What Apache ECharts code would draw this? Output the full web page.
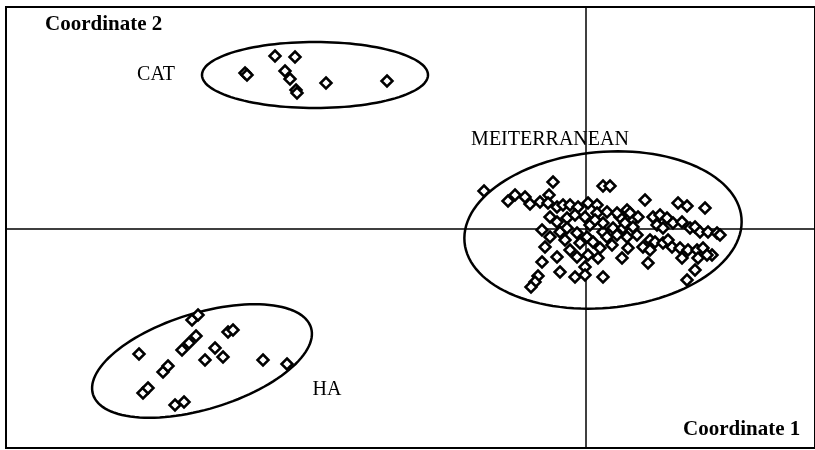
<!DOCTYPE html>
<html lang="en">
<head>
<meta charset="utf-8">
<title>Coordinates</title>
<script src="https://cdn.jsdelivr.net/npm/echarts@6/dist/echarts.min.js"></script>
<style>
  html, body { margin: 0; padding: 0; background: #fff; }
  #main { width: 815px; height: 450px; }
</style>
</head>
<body>
<div id="main"></div>
<script>
// group points (Coordinate 1, Coordinate 2)
const catPoints = [
  [-3.41, 1.56], [-3.39, 1.54], [-3.11, 1.73], [-2.91, 1.72], [-3.01, 1.58],
  [-2.96, 1.50], [-2.90, 1.39], [-2.89, 1.36], [-2.60, 1.46], [-1.99, 1.48]
];
const haPoints = [
  [-4.47, -1.25], [-3.94, -0.91], [-3.88, -0.86], [-3.58, -1.03], [-3.53, -1.01],
  [-4.04, -1.21], [-3.97, -1.14], [-3.90, -1.07], [-3.71, -1.19], [-3.63, -1.28],
  [-3.81, -1.31], [-4.23, -1.43], [-4.18, -1.37], [-4.43, -1.64], [-4.38, -1.59],
  [-4.11, -1.76], [-4.02, -1.73], [-3.23, -1.31], [-2.99, -1.35]
];
const medPoints = [
  [-1.02, 0.38], [-0.33, 0.47], [0.17, 0.43], [0.24, 0.43], [-0.78, 0.28],
  [-0.71, 0.34], [-0.61, 0.32], [-0.56, 0.25], [-0.46, 0.27], [-0.37, 0.34],
  [-0.38, 0.26], [-0.29, 0.22], [-0.23, 0.24], [-0.16, 0.24], [-0.08, 0.22],
  [0.02, 0.26], [0.11, 0.24], [-0.36, 0.12], [-0.29, 0.07], [-0.19, 0.11],
  [-0.11, 0.14], [-0.01, 0.12], [0.11, 0.16], [0.21, 0.17], [-0.44, -0.01],
  [-0.36, -0.08], [-0.26, -0.03], [-0.19, 0.01], [-0.09, -0.04], [0.01, -0.08],
  [0.07, -0.13], [0.17, -0.03], [0.27, 0.01], [-0.41, -0.18], [-0.16, -0.21],
  [-0.09, -0.28], [-0.29, -0.28], [0.02, -0.26], [0.12, -0.29], [0.36, -0.29],
  [-0.44, -0.33], [-0.26, -0.43], [-0.01, -0.38], [0.62, -0.34], [-0.48, -0.47],
  [-0.51, -0.53], [-0.55, -0.58], [-0.11, -0.48], [-0.01, -0.46], [0.17, -0.48],
  [0.59, 0.29], [0.67, 0.12], [0.64, -0.11], [0.41, -0.08], [0.47, 0.09],
  [0.34, 0.12], [0.41, 0.19], [0.92, 0.26], [1.01, 0.23], [1.19, 0.21],
  [0.31, 0.16], [0.44, 0.16], [0.52, 0.12], [0.74, 0.14], [0.81, 0.11],
  [0.71, 0.04], [0.77, 0.01], [0.87, 0.06], [0.96, 0.07], [1.04, 0.01],
  [1.09, 0.02], [1.14, -0.03], [1.22, -0.03], [1.31, -0.04], [1.34, -0.06],
  [0.17, 0.06], [0.37, 0.01], [0.47, 0.02], [0.21, -0.08], [0.31, -0.06],
  [0.51, -0.06], [0.69, -0.13], [0.77, -0.14], [0.86, -0.18], [0.94, -0.19],
  [1.02, -0.21], [1.11, -0.21], [0.82, -0.11], [1.17, -0.19], [1.26, -0.26],
  [1.21, -0.26], [0.57, -0.18], [0.64, -0.21], [0.96, -0.29], [1.12, -0.29],
  [1.09, -0.41], [1.01, -0.51], [0.04, 0.04], [0.09, 0.09], [-0.06, -0.14],
  [0.26, -0.16], [0.14, -0.19], [0.42, -0.19], [-0.21, -0.11], [0.39, 0.06]
];

// enclosing ellipses: centre x, centre y, half axes, tilt (degrees)
const ellipseCx = [-2.71, 0.17, -3.84];
const ellipseCy = [1.54, -0.01, -1.32];
const ellipseRx = [1.13, 1.39, 1.14];
const ellipseRy = [0.33, 0.78, 0.48];
const ellipseTilt = [0, 5, 17];

// group names and where they sit
const groupNames = ['CAT', 'MEITERRANEAN', 'HA'];
const groupLabelX = [-4.30, -0.36, -2.59];
const groupLabelY = [1.54, 0.89, -1.61];

const serif = '"Liberation Serif", "DejaVu Serif", serif';

const chart = echarts.init(document.getElementById('main'));

const pointStyle = {
  type: 'scatter',
  symbol: 'diamond',
  symbolSize: 11,
  itemStyle: { color: '#fff', borderColor: '#000', borderWidth: 2.5, opacity: 1 },
  silent: true,
  z: 3
};

const option = {
  animation: false,
  backgroundColor: '#fff',
  grid: {
    left: 6, right: -4, top: 7, bottom: 2,
    show: true, borderColor: '#000', borderWidth: 2
  },
  xAxis: {
    type: 'value', min: -5.8, max: 2.29,
    axisLine: { show: true, onZero: true, lineStyle: { color: '#000', width: 1.5 } },
    axisTick: { show: false }, axisLabel: { show: false }, splitLine: { show: false }
  },
  yAxis: {
    type: 'value', min: -2.19, max: 2.22,
    axisLine: { show: true, onZero: true, lineStyle: { color: '#000', width: 1.5 } },
    axisTick: { show: false }, axisLabel: { show: false }, splitLine: { show: false }
  },
  graphic: [
    { type: 'text', left: 45, top: 14,
      style: { text: 'Coordinate 2', font: 'bold 21px ' + serif, fill: '#000' } },
    { type: 'text', left: 683, top: 419,
      style: { text: 'Coordinate 1', font: 'bold 21px ' + serif, fill: '#000', letterSpacing: 0.8 } }
  ],
  series: [
    {
      type: 'custom',
      silent: true,
      z: 2,
      data: ellipseCx.map((cx, i) => [cx, ellipseCy[i], ellipseRx[i], ellipseRy[i], ellipseTilt[i]]),
      renderItem: function (params, api) {
        const cx = api.value(0), cy = api.value(1);
        const a = api.value(2), b = api.value(3);
        const t = api.value(4) * Math.PI / 180;
        const pts = [];
        for (let k = 0; k <= 120; k++) {
          const u = k / 120 * Math.PI * 2;
          const ex = a * Math.cos(u), ey = b * Math.sin(u);
          pts.push(api.coord([
            cx + ex * Math.cos(t) - ey * Math.sin(t),
            cy + ex * Math.sin(t) + ey * Math.cos(t)
          ]));
        }
        return {
          type: 'polygon',
          shape: { points: pts },
          style: { fill: 'none', stroke: '#000', lineWidth: 2.5 }
        };
      }
    },
    Object.assign({ name: 'CAT', data: catPoints }, pointStyle),
    Object.assign({ name: 'HA', data: haPoints }, pointStyle),
    Object.assign({ name: 'MEITERRANEAN', data: medPoints }, pointStyle),
    {
      type: 'scatter',
      symbolSize: 0,
      silent: true,
      itemStyle: { opacity: 1 },
      data: groupNames.map((n, i) => ({ name: n, value: [groupLabelX[i], groupLabelY[i]] })),
      label: {
        show: true, position: 'inside', formatter: '{b}',
        color: '#000', opacity: 1, textBorderWidth: 0,
        fontFamily: serif, fontSize: 20
      }
    }
  ]
};

chart.setOption(option);
</script>
</body>
</html>
